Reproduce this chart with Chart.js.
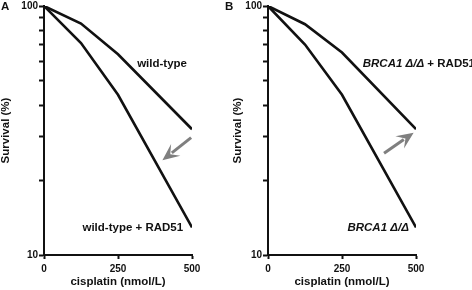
<!DOCTYPE html>
<html>
<head>
<meta charset="utf-8">
<script src="https://cdn.jsdelivr.net/npm/chart.js@4/dist/chart.umd.min.js"></script>
<style>
  html, body { margin: 0; padding: 0; background: #fff; }
  #wrap { position: relative; width: 472px; height: 290px; overflow: hidden; }
  #panelA { position: absolute; left: 0; top: 0; }
  #panelB { position: absolute; left: 224px; top: 0; }
</style>
</head>
<body>
<div id="wrap">
  <canvas id="panelA" width="236" height="290"></canvas>
  <canvas id="panelB" width="248" height="290"></canvas>
</div>
<script>
// dose (nmol/L) and survival (%)
const doses = [0, 125, 250, 500];
const wildType = [100, 85, 64, 32];
const wildTypeRad51 = [100, 71, 44, 12.9];
const brca1Rad51 = [100, 84.5, 65, 32];
const brca1 = [100, 70, 44, 12.9];

const xTicks = [0, 250, 500];
const yTicks = [10, 20, 30, 40, 50, 60, 70, 80, 90, 100];
const yLabels = [10, 100];

const FONT = "'Liberation Sans', Arial, sans-serif";
const GREY = '#7f7f7f';

function pts(vals) {
  return doses.map((d, i) => ({ x: d, y: vals[i] }));
}

function series(vals) {
  return {
    data: pts(vals),
    borderColor: '#111',
    borderWidth: 2.6,
    pointRadius: 0,
    tension: 0,
    fill: false
  };
}

// labels, arrows and panel letter, placed in data coordinates
function overlay(letter, labels, arrow) {
  return {
    id: 'overlay' + letter,
    afterDraw(chart) {
      const ctx = chart.ctx;
      const xs = chart.scales.x, ys = chart.scales.y;
      ctx.save();
      ctx.fillStyle = '#111';
      ctx.textBaseline = 'middle';
      ctx.font = 'bold 11.5px ' + FONT;
      ctx.textAlign = 'left';
      ctx.fillText(letter, 1, 7);

      labels.forEach(l => {
        let x = xs.getPixelForValue(l.x);
        const y = ys.getPixelForValue(l.y);
        const parts = l.parts;
        let total = 0;
        parts.forEach(p => { ctx.font = p.font; total += ctx.measureText(p.text).width; });
        if (l.align === 'right') x -= total;
        ctx.textAlign = 'left';
        parts.forEach(p => {
          ctx.font = p.font;
          ctx.fillText(p.text, x, y);
          x += ctx.measureText(p.text).width;
        });
      });

      const x1 = xs.getPixelForValue(arrow.from[0]), y1 = ys.getPixelForValue(arrow.from[1]);
      const x2 = xs.getPixelForValue(arrow.to[0]), y2 = ys.getPixelForValue(arrow.to[1]);
      const a = Math.atan2(y2 - y1, x2 - x1);
      const head = 15, half = 7.5;
      const bx = x2 - head * Math.cos(a), by = y2 - head * Math.sin(a);
      ctx.strokeStyle = GREY;
      ctx.fillStyle = GREY;
      ctx.lineWidth = 3;
      ctx.beginPath();
      ctx.moveTo(x1, y1);
      ctx.lineTo(bx + 3 * Math.cos(a), by + 3 * Math.sin(a));
      ctx.stroke();
      ctx.beginPath();
      ctx.moveTo(x2, y2);
      ctx.lineTo(bx - half * Math.sin(a) - 2 * Math.cos(a), by + half * Math.cos(a) - 2 * Math.sin(a));
      ctx.lineTo(bx + 5 * Math.cos(a), by + 5 * Math.sin(a));
      ctx.lineTo(bx + half * Math.sin(a) - 2 * Math.cos(a), by - half * Math.cos(a) - 2 * Math.sin(a));
      ctx.closePath();
      ctx.fill();
      ctx.restore();
    }
  };
}

function makeChart(id, dataTop, dataBottom, rightPad, titlePad, plugin) {
  return new Chart(document.getElementById(id), {
    type: 'line',
    data: { datasets: [series(dataTop), series(dataBottom)] },
    options: {
      responsive: false,
      animation: false,
      layout: { padding: { left: 0, right: rightPad, top: 5, bottom: 0 } },
      plugins: { legend: { display: false }, tooltip: { enabled: false } },
      scales: {
        x: {
          type: 'linear',
          min: 0,
          max: 500,
          afterBuildTicks: s => { s.ticks = xTicks.map(v => ({ value: v })); },
          afterFit: s => { s.height = 35; },
          border: { display: true, color: '#111', width: 2 },
          grid: { drawOnChartArea: false, drawTicks: true, tickLength: 4, tickColor: '#111', tickWidth: 2 },
          ticks: { color: '#111', padding: 5, maxRotation: 0, font: { family: FONT, size: 10, weight: 'bold', lineHeight: 1 } },
          title: { display: true, text: 'cisplatin (nmol/L)', color: '#111', padding: { top: 0, bottom: 2.5 },
                   font: { family: FONT, size: 11.5, weight: 'bold', lineHeight: 1 } }
        },
        y: {
          type: 'logarithmic',
          min: 10,
          max: 100,
          afterBuildTicks: s => { s.ticks = yTicks.map(v => ({ value: v })); },
          afterFit: s => { s.width = 44; },
          border: { display: true, color: '#111', width: 2 },
          grid: { drawOnChartArea: false, drawTicks: true, tickLength: 5, tickColor: '#111', tickWidth: 2 },
          ticks: {
            color: '#111', padding: 1, autoSkip: false,
            font: { family: FONT, size: 10, weight: 'bold', lineHeight: 1 },
            callback: v => (yLabels.includes(v) ? String(v) : '')
          },
          title: { display: true, text: 'Survival (%)', color: '#111', padding: { top: titlePad, bottom: 0 },
                   font: { family: FONT, size: 11.5, weight: 'bold', lineHeight: 1 } }
        }
      }
    },
    plugins: [plugin]
  });
}

const bold = 'bold 11.5px ' + FONT;
const boldItalic = 'italic bold 11.5px ' + FONT;

makeChart('panelA', wildType, wildTypeRad51, 44, 0, overlay('A', [
  { x: 483, y: 58.5, align: 'right', parts: [{ text: 'wild-type', font: bold }] },
  { x: 470, y: 12.9, align: 'right', parts: [{ text: 'wild-type + RAD51', font: bold }] }
], { from: [497, 29.6], to: [400, 24] }));

makeChart('panelB', brca1Rad51, brca1, 56, 8, overlay('B', [
  { x: 320, y: 58.5, align: 'left', parts: [{ text: 'BRCA1 \u0394/\u0394', font: boldItalic }, { text: ' + RAD51', font: bold }] },
  { x: 476, y: 12.9, align: 'right', parts: [{ text: 'BRCA1 \u0394/\u0394', font: boldItalic }] }
], { from: [392, 25.6], to: [492, 31] }));
</script>
</body>
</html>
